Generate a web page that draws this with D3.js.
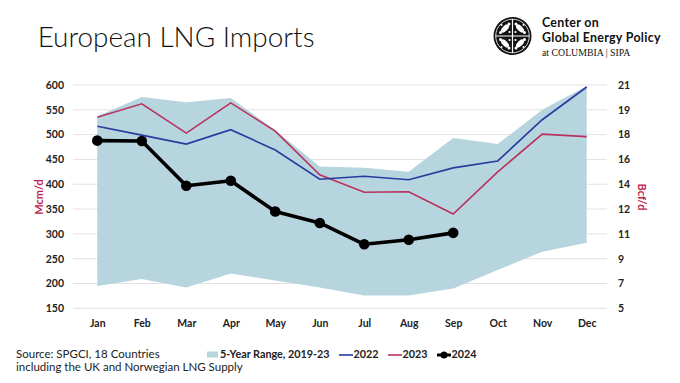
<!DOCTYPE html>
<html><head><meta charset="utf-8">
<script src="https://cdn.jsdelivr.net/npm/d3@7"></script>
<style>
html,body{margin:0;padding:0;background:#fff;}
svg{display:block;font-family:Lato,"Open Sans",sans-serif;}
</style></head>
<body>
<svg id="c" width="680" height="383"></svg>
<script>
const months = ["Jan","Feb","Mar","Apr","May","Jun","Jul","Aug","Sep","Oct","Nov","Dec"];
const rangeHigh = [537,576,565,574,509,436,433,425,493,481,550,598];
const rangeLow  = [195,209,192,220,206,192,176,176,190,227,264,282];
const s2022 = [517,499,481,510,469,410,416,409,433,447,530,596];
const s2023 = [535,562,503,564,507,419,384,385,340,425,501,496];
const s2024 = [488,487,397,407,345,322,279,288,302];
const leftTicks = [150,200,250,300,350,400,450,500,550,600];
const rightTickLabels = ["5","7","9","11","12","14","16","18","19","21"];

const svg = d3.select("#c");
const x = d3.scalePoint().domain(months).range([97.3, 586.7]);
const y = d3.scaleLinear().domain([150,600]).range([308.3, 85]);

// gridlines
svg.append("g").selectAll("line").data(leftTicks).join("line")
  .attr("x1",73).attr("x2",607)
  .attr("y1",d=>y(d)).attr("y2",d=>y(d))
  .attr("stroke","#e2e2e2").attr("stroke-width",1);

// band
const area = d3.area().x((d,i)=>x(months[i])).y0((d,i)=>y(rangeLow[i])).y1(d=>y(d));
svg.append("path").datum(rangeHigh).attr("d",area).attr("fill","#b7d5de");

const line = d3.line().x((d,i)=>x(months[i])).y(d=>y(d));
svg.append("path").datum(s2023).attr("d",line).attr("fill","none").attr("stroke","#b8325e").attr("stroke-width",1.6);
svg.append("path").datum(s2022).attr("d",line).attr("fill","none").attr("stroke","#2a3a9e").attr("stroke-width",1.6);
svg.append("path").datum(s2024).attr("d",line).attr("fill","none").attr("stroke","#000").attr("stroke-width",3.6).attr("stroke-linejoin","round");
svg.append("g").selectAll("circle").data(s2024).join("circle")
  .attr("cx",(d,i)=>x(months[i])).attr("cy",d=>y(d)).attr("r",5.3).attr("fill","#000");

// axes
const axL = svg.append("g").attr("transform","translate(68,0)")
  .call(d3.axisLeft(y).tickValues(leftTicks).tickSize(0).tickPadding(4));
axL.select(".domain").remove();
axL.selectAll("text").attr("font-family","Lato").attr("font-weight","bold").attr("font-size",10.5).attr("fill","#222");

const axR = svg.append("g").attr("transform","translate(614,0)")
  .call(d3.axisRight(y).tickValues(leftTicks).tickFormat((d,i)=>rightTickLabels[i]).tickSize(0).tickPadding(4));
axR.select(".domain").remove();
axR.selectAll("text").attr("font-family","Lato").attr("font-weight","bold").attr("font-size",10.5).attr("fill","#222");

const axB = svg.append("g").attr("transform","translate(0,316)")
  .call(d3.axisBottom(x).tickSize(0).tickPadding(4));
axB.select(".domain").remove();
axB.selectAll("text").attr("font-family","Lato").attr("font-weight","bold").attr("font-size",10.5).attr("fill","#222");

// axis titles
svg.append("text").attr("transform","translate(43,197) rotate(-90)").attr("text-anchor","middle")
  .attr("font-weight","bold").attr("font-size",11).attr("fill","#c0204f").text("Mcm/d");
svg.append("text").attr("transform","translate(638,197) rotate(90)").attr("text-anchor","middle")
  .attr("font-weight","bold").attr("font-size",11).attr("fill","#c0204f").text("Bcf/d");

// title
const title = svg.append("text").attr("x",37.7).attr("y",47).attr("font-size",27).attr("font-weight",300).attr("fill","#111")
  .text("European LNG Imports");
const tw = title.node().getComputedTextLength();
title.attr("font-size", 27*277/tw);

// source
svg.append("text").attr("x",16).attr("y",358).attr("font-size",11.5).attr("fill","#222").text("Source: SPGCI, 18 Countries");
svg.append("text").attr("x",16).attr("y",371).attr("font-size",11.5).attr("fill","#222").text("including the UK and Norwegian LNG Supply");

// legend
const lg = svg.append("g").attr("font-weight","bold").attr("font-size",10.8).attr("fill","#222");
lg.append("rect").attr("x",207).attr("y",351.5).attr("width",11).attr("height",6).attr("fill","#b7d5de");
lg.append("text").attr("x",220).attr("y",358).text("5-Year Range, 2019-23");
lg.append("line").attr("x1",339).attr("x2",353).attr("y1",355).attr("y2",355).attr("stroke","#2a3a9e").attr("stroke-width",1.6);
lg.append("text").attr("x",353.5).attr("y",358).text("2022");
lg.append("line").attr("x1",388).attr("x2",402).attr("y1",355).attr("y2",355).attr("stroke","#b8325e").attr("stroke-width",1.6);
lg.append("text").attr("x",402.5).attr("y",358).text("2023");
lg.append("line").attr("x1",437).attr("x2",451).attr("y1",355).attr("y2",355).attr("stroke","#000").attr("stroke-width",3);
lg.append("circle").attr("cx",444).attr("cy",355).attr("r",3.5).attr("fill","#000");
lg.append("text").attr("x",451.5).attr("y",358).text("2024");

// logo
const logo = svg.append("g");
const cx = 512.5, cy = 36, r = 19;
logo.append("circle").attr("cx",cx).attr("cy",cy).attr("r",r).attr("fill","#111");
logo.append("circle").attr("cx",cx).attr("cy",cy).attr("r",r-2.2).attr("fill","none").attr("stroke","#fff").attr("stroke-width",0.8);
logo.append("line").attr("x1",cx).attr("x2",cx).attr("y1",cy-r+2).attr("y2",cy+r-2).attr("stroke","#fff").attr("stroke-width",1.2);
logo.append("line").attr("x1",cx-r+2).attr("x2",cx+r-2).attr("y1",cy).attr("y2",cy).attr("stroke","#fff").attr("stroke-width",1.2);
[[-1,-1],[1,-1],[-1,1],[1,1]].forEach(([sx,sy])=>{
  logo.append("ellipse").attr("cx",cx+sx*7.5).attr("cy",cy+sy*7.5).attr("rx",2.6).attr("ry",5)
    .attr("transform",`rotate(${sx*sy*45},${cx+sx*7.5},${cy+sy*7.5})`).attr("fill","#fff");
  logo.append("circle").attr("cx",cx+sx*3.5).attr("cy",cy+sy*12).attr("r",1.5).attr("fill","#fff");
  logo.append("circle").attr("cx",cx+sx*12).attr("cy",cy+sy*3.5).attr("r",1.5).attr("fill","#fff");
  logo.append("circle").attr("cx",cx+sx*3).attr("cy",cy+sy*4).attr("r",1.1).attr("fill","#fff");
  logo.append("circle").attr("cx",cx+sx*11).attr("cy",cy+sy*11).attr("r",1).attr("fill","#fff");
});
logo.append("text").attr("x",542).attr("y",27).attr("font-family","Lato").attr("font-weight","bold").attr("font-size",12.4).attr("letter-spacing",0.3).attr("fill","#111").text("Center on");
logo.append("text").attr("x",542).attr("y",42.3).attr("font-family","Lato").attr("font-weight","bold").attr("font-size",12.4).attr("letter-spacing",0.3).attr("fill","#111").text("Global Energy Policy");
logo.append("text").attr("x",542).attr("y",55.5).attr("font-family","Liberation Serif").attr("font-size",9.8).attr("fill","#111").text("at COLUMBIA | SIPA");
</script>
</body></html>
